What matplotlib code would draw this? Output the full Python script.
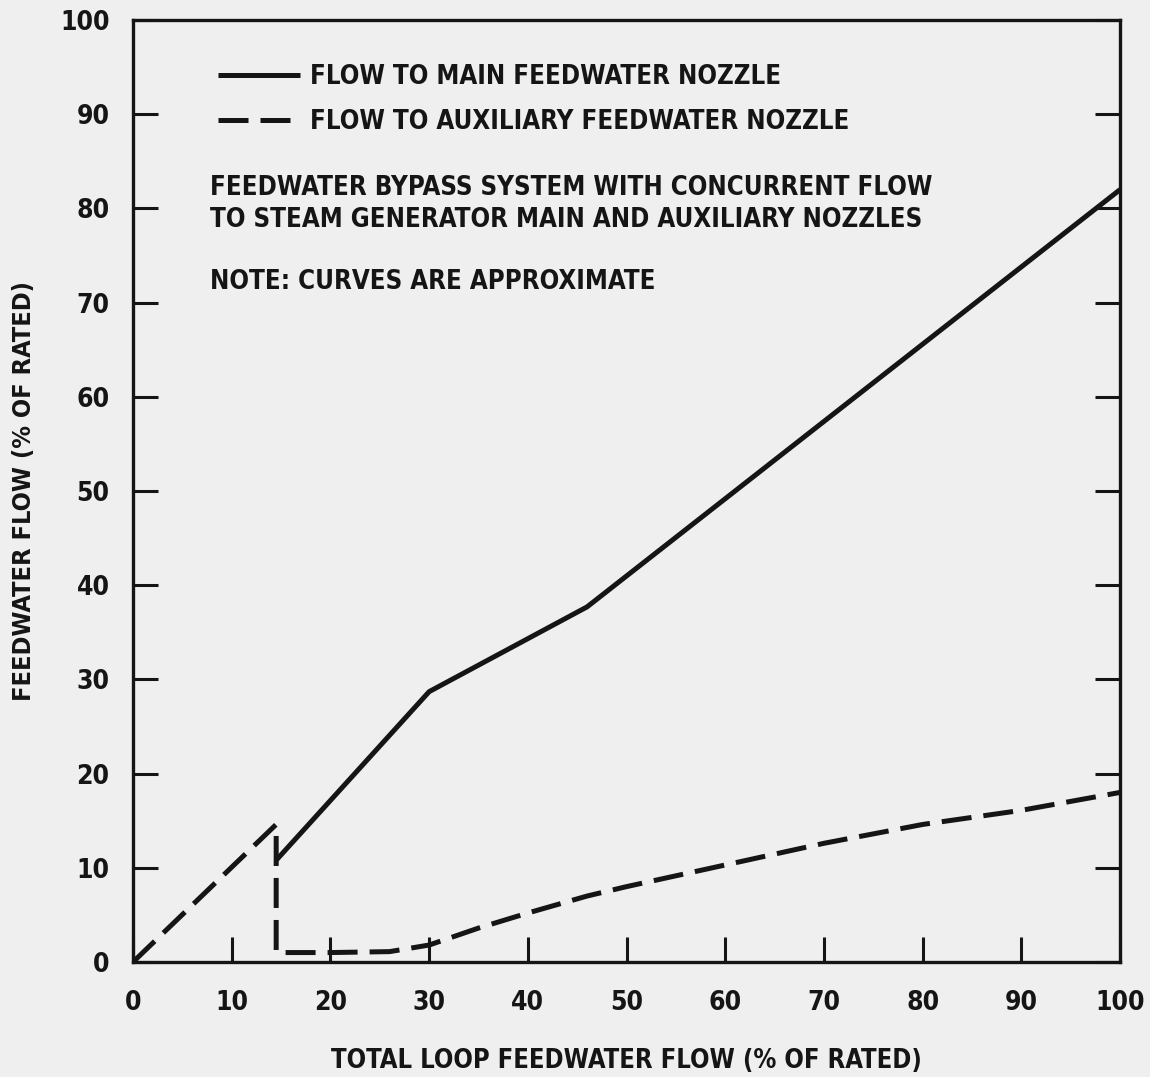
import matplotlib
matplotlib.use("Agg")
import matplotlib.pyplot as plt

# total loop flow (% of rated) vs flow to each nozzle (% of rated)
main_x = [14.5, 30, 46, 100]
main_y = [10.8, 28.7, 37.7, 82.0]

aux_x = [0, 14.5, 14.5, 20, 26, 30, 35, 40, 46, 50, 60, 70, 80, 90, 100]
aux_y = [0, 14.6, 1.0, 1.0, 1.1, 1.8, 3.6, 5.2, 7.0, 8.0, 10.3, 12.6, 14.6, 16.1, 18.0]

x_ticks = [0, 10, 20, 30, 40, 50, 60, 70, 80, 90, 100]
y_ticks = [0, 10, 20, 30, 40, 50, 60, 70, 80, 90, 100]

ink = "#151515"
bg = "#efefef"

plt.rcParams['font.family'] = ['DejaVu Sans']
plt.rcParams['font.stretch'] = 'condensed'
plt.rcParams['font.weight'] = 'bold'
plt.rcParams['axes.labelweight'] = 'bold'

fig = plt.figure(figsize=(11.5, 10.77), dpi=100, facecolor=bg)
ax = fig.add_axes([0.1157, 0.1068, 0.8583, 0.8746], facecolor=bg)

ax.plot(main_x, main_y, color=ink, lw=3.6, solid_capstyle='butt',
        label='FLOW TO MAIN FEEDWATER NOZZLE')
ax.plot(aux_x, aux_y, color=ink, lw=3.6, dashes=(6, 2.4),
        label='FLOW TO AUXILIARY FEEDWATER NOZZLE')

ax.set_xlim(0, 100)
ax.set_ylim(0, 100)
ax.set_xticks(x_ticks)
ax.set_yticks(y_ticks)
ax.tick_params(direction='in', length=18, width=2.2, color=ink,
               labelsize=19, labelcolor=ink, pad=17,
               right=True, top=False)
ax.tick_params(axis='x', pad=20)
for s in ax.spines.values():
    s.set_linewidth(2.4)
    s.set_color(ink)

ax.set_xlabel('TOTAL LOOP FEEDWATER FLOW (% OF RATED)', fontsize=18.4,
              color=ink, labelpad=23)
ax.set_ylabel('FEEDWATER FLOW (% OF RATED)', fontsize=18.2, color=ink,
              labelpad=17)

# legend sits inside the frame, no box
leg = ax.legend(loc='upper left', bbox_to_anchor=(0.086, 0.953), frameon=False,
                fontsize=18.5, handlelength=3.2, handletextpad=0.4,
                labelspacing=0.72, borderpad=0, borderaxespad=0)
for t in leg.get_texts():
    t.set_color(ink)

ax.text(0.078, 0.805, 'FEEDWATER BYPASS SYSTEM WITH CONCURRENT FLOW\n'
        'TO STEAM GENERATOR MAIN AND AUXILIARY NOZZLES',
        transform=ax.transAxes, fontsize=18.5, color=ink, va='center',
        linespacing=1.3)
ax.text(0.078, 0.722, 'NOTE: CURVES ARE APPROXIMATE', transform=ax.transAxes,
        fontsize=18.5, color=ink, va='center')

fig.savefig('out.png', dpi=100, facecolor=bg)
